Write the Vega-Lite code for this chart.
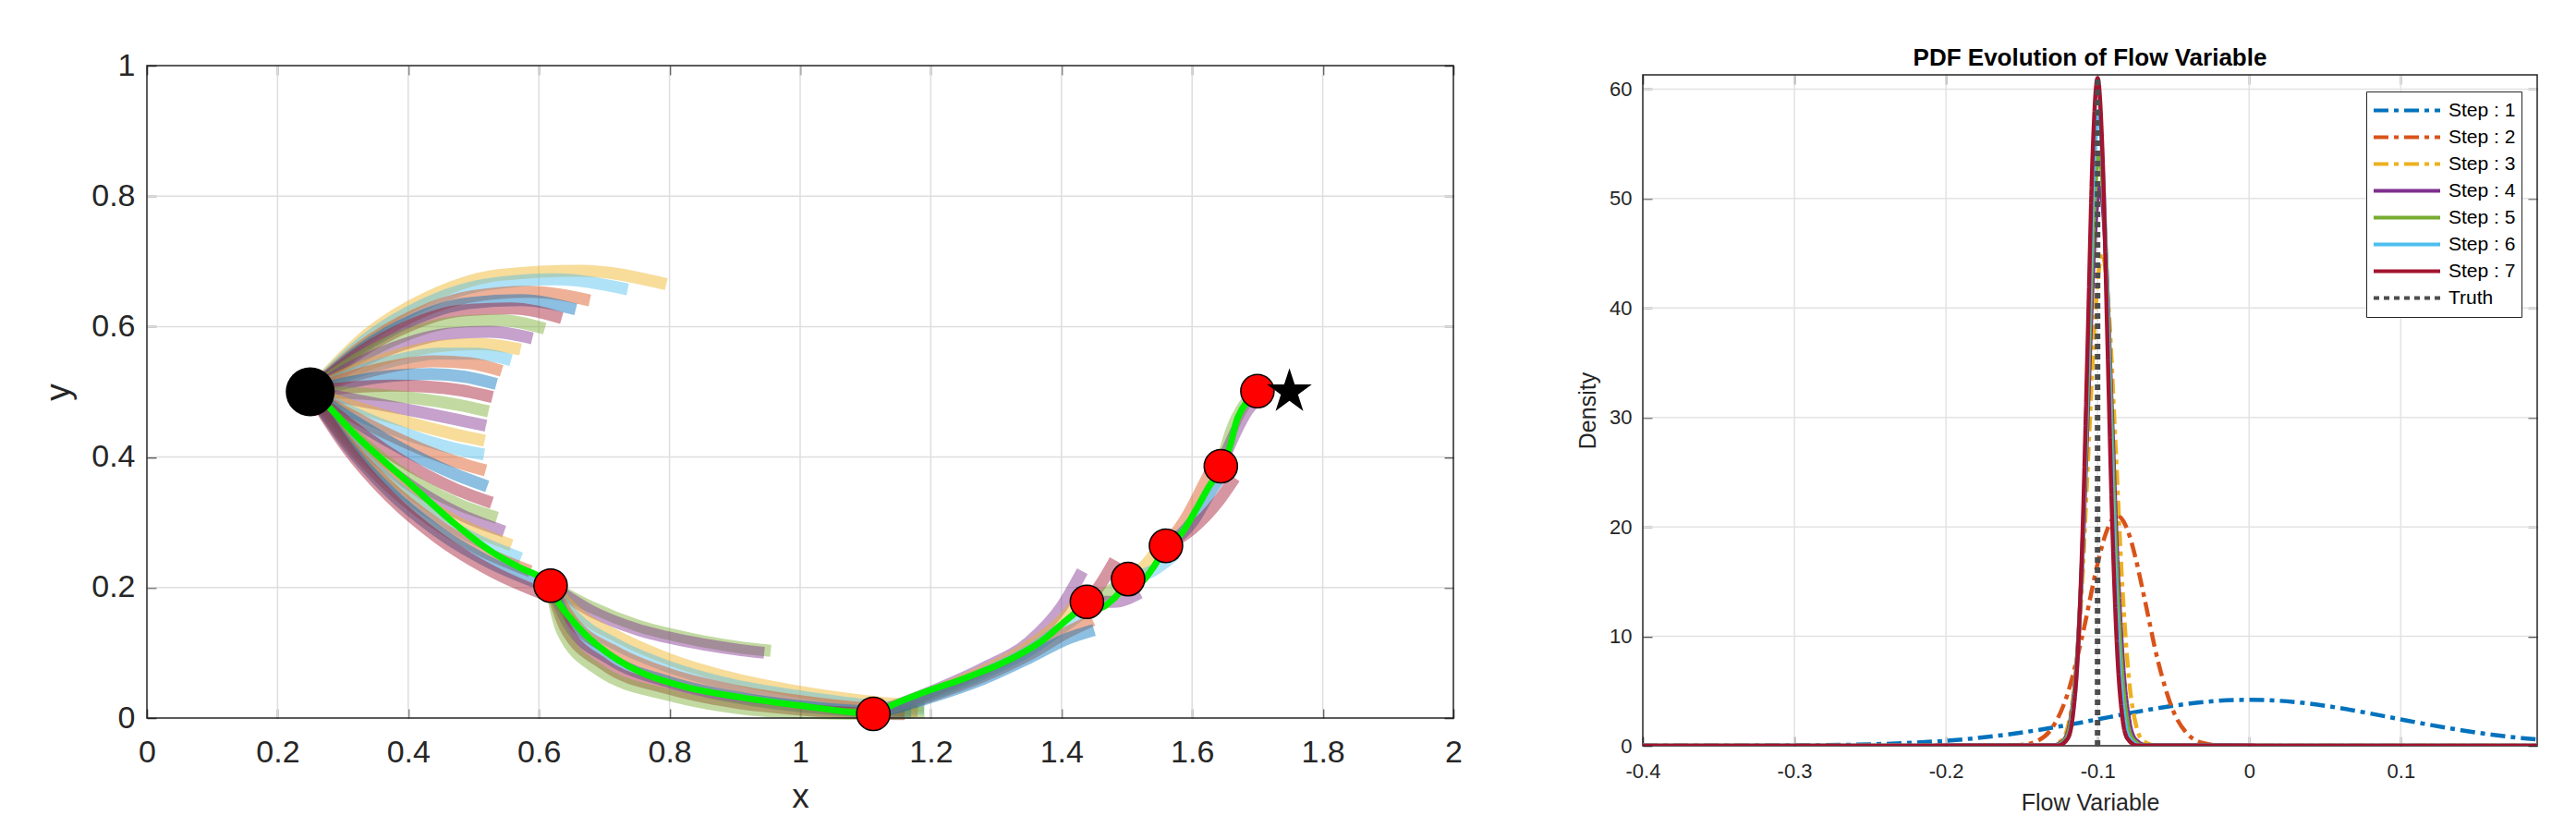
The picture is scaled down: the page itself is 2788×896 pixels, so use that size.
{
"$schema": "https://vega.github.io/schema/vega-lite/v6.json",
"background": "white",
"autosize": {"type": "none"},
"padding": {"left": 159, "top": 71, "right": 42, "bottom": 89},
"width": 2587,
"height": 736,
"datasets": {
"fan": [
{"g":"a01","x":0.25,"y":0.5},{"g":"a01","x":0.3358,"y":0.5866},{"g":"a01","x":0.4332,"y":0.6464},{"g":"a01","x":0.5422,"y":0.6794},{"g":"a01","x":0.6628,"y":0.6856},{"g":"a01","x":0.795,"y":0.665},
{"g":"a02","x":0.25,"y":0.5},{"g":"a02","x":0.3322,"y":0.5782},{"g":"a02","x":0.422,"y":0.633},{"g":"a02","x":0.5192,"y":0.6644},{"g":"a02","x":0.6238,"y":0.6724},{"g":"a02","x":0.736,"y":0.657},
{"g":"a03","x":0.25,"y":0.5},{"g":"a03","x":0.3287,"y":0.5694},{"g":"a03","x":0.4109,"y":0.6182},{"g":"a03","x":0.4965,"y":0.6462},{"g":"a03","x":0.5855,"y":0.6534},{"g":"a03","x":0.678,"y":0.64},
{"g":"a03b","x":0.25,"y":0.5},{"g":"a03b","x":0.32725,"y":0.5648},{"g":"a03b","x":0.4066,"y":0.60995},{"g":"a03b","x":0.4879,"y":0.63525},{"g":"a03b","x":0.57115,"y":0.6407},{"g":"a03b","x":0.6565,"y":0.6265},
{"g":"a04","x":0.25,"y":0.5},{"g":"a04","x":0.3258,"y":0.5602},{"g":"a04","x":0.4023,"y":0.6017},{"g":"a04","x":0.4793,"y":0.6243},{"g":"a04","x":0.5568,"y":0.628},{"g":"a04","x":0.635,"y":0.613},
{"g":"a05","x":0.25,"y":0.5},{"g":"a05","x":0.3237,"y":0.5516},{"g":"a05","x":0.3963,"y":0.587},{"g":"a05","x":0.4681,"y":0.6064},{"g":"a05","x":0.5391,"y":0.6098},{"g":"a05","x":0.609,"y":0.597},
{"g":"a06","x":0.25,"y":0.5},{"g":"a06","x":0.3217,"y":0.5429},{"g":"a06","x":0.3916,"y":0.5725},{"g":"a06","x":0.4596,"y":0.5889},{"g":"a06","x":0.5257,"y":0.5921},{"g":"a06","x":0.59,"y":0.582},
{"g":"a07","x":0.25,"y":0.5},{"g":"a07","x":0.3198,"y":0.5341},{"g":"a07","x":0.3869,"y":0.5576},{"g":"a07","x":0.4513,"y":0.5706},{"g":"a07","x":0.513,"y":0.5731},{"g":"a07","x":0.572,"y":0.565},
{"g":"a07b","x":0.25,"y":0.5},{"g":"a07b","x":0.3186,"y":0.5294},{"g":"a07b","x":0.3837,"y":0.5489},{"g":"a07b","x":0.4452,"y":0.5586},{"g":"a07b","x":0.5031,"y":0.5585},{"g":"a07b","x":0.5575,"y":0.5485},
{"g":"a08","x":0.25,"y":0.5},{"g":"a08","x":0.3174,"y":0.5247},{"g":"a08","x":0.3805,"y":0.5402},{"g":"a08","x":0.4391,"y":0.5466},{"g":"a08","x":0.4932,"y":0.5439},{"g":"a08","x":0.543,"y":0.532},
{"g":"a09","x":0.25,"y":0.5},{"g":"a09","x":0.316,"y":0.5158},{"g":"a09","x":0.3774,"y":0.5249},{"g":"a09","x":0.4344,"y":0.5273},{"g":"a09","x":0.487,"y":0.523},{"g":"a09","x":0.535,"y":0.512},
{"g":"a10","x":0.25,"y":0.5},{"g":"a10","x":0.3146,"y":0.5069},{"g":"a10","x":0.3747,"y":0.5095},{"g":"a10","x":0.4305,"y":0.5079},{"g":"a10","x":0.482,"y":0.5021},{"g":"a10","x":0.529,"y":0.492},
{"g":"a11","x":0.25,"y":0.5},{"g":"a11","x":0.3131,"y":0.498},{"g":"a11","x":0.372,"y":0.494},{"g":"a11","x":0.4266,"y":0.488},{"g":"a11","x":0.4769,"y":0.48},{"g":"a11","x":0.523,"y":0.47},
{"g":"a12","x":0.25,"y":0.5},{"g":"a12","x":0.3118,"y":0.489},{"g":"a12","x":0.3696,"y":0.4783},{"g":"a12","x":0.4234,"y":0.4679},{"g":"a12","x":0.4732,"y":0.4578},{"g":"a12","x":0.519,"y":0.448},
{"g":"a13","x":0.25,"y":0.5},{"g":"a13","x":0.3106,"y":0.48},{"g":"a13","x":0.3675,"y":0.4625},{"g":"a13","x":0.4209,"y":0.4475},{"g":"a13","x":0.4708,"y":0.435},{"g":"a13","x":0.517,"y":0.425},
{"g":"a14","x":0.25,"y":0.5},{"g":"a14","x":0.3093,"y":0.4711},{"g":"a14","x":0.3656,"y":0.447},{"g":"a14","x":0.4188,"y":0.4278},{"g":"a14","x":0.4689,"y":0.4135},{"g":"a14","x":0.516,"y":0.404},
{"g":"a14b","x":0.25,"y":0.5},{"g":"a14b","x":0.3088,"y":0.46605},{"g":"a14b","x":0.3651,"y":0.437},{"g":"a14b","x":0.4188,"y":0.4129},{"g":"a14b","x":0.4699,"y":0.39375},{"g":"a14b","x":0.5185,"y":0.3795},
{"g":"a15","x":0.25,"y":0.5},{"g":"a15","x":0.3083,"y":0.461},{"g":"a15","x":0.3646,"y":0.427},{"g":"a15","x":0.4188,"y":0.398},{"g":"a15","x":0.4709,"y":0.374},{"g":"a15","x":0.521,"y":0.355},
{"g":"a16","x":0.25,"y":0.5},{"g":"a16","x":0.3074,"y":0.452},{"g":"a16","x":0.364,"y":0.4109},{"g":"a16","x":0.4196,"y":0.3769},{"g":"a16","x":0.4742,"y":0.35},{"g":"a16","x":0.528,"y":0.33},
{"g":"a17","x":0.25,"y":0.5},{"g":"a17","x":0.3066,"y":0.443},{"g":"a17","x":0.3635,"y":0.3951},{"g":"a17","x":0.4207,"y":0.3565},{"g":"a17","x":0.4782,"y":0.3272},{"g":"a17","x":0.536,"y":0.307},
{"g":"a17b","x":0.25,"y":0.5},{"g":"a17b","x":0.30645,"y":0.4381},{"g":"a17b","x":0.3644,"y":0.38565},{"g":"a17b","x":0.4238,"y":0.34285},{"g":"a17b","x":0.48465,"y":0.3097},{"g":"a17b","x":0.547,"y":0.286},
{"g":"a18","x":0.25,"y":0.5},{"g":"a18","x":0.3063,"y":0.4332},{"g":"a18","x":0.3653,"y":0.3762},{"g":"a18","x":0.4269,"y":0.3292},{"g":"a18","x":0.4911,"y":0.2922},{"g":"a18","x":0.558,"y":0.265},
{"g":"a18b","x":0.25,"y":0.5},{"g":"a18b","x":0.3063,"y":0.42835},{"g":"a18b","x":0.3667,"y":0.36695},{"g":"a18b","x":0.4312,"y":0.31595},{"g":"a18b","x":0.4998,"y":0.27535},{"g":"a18b","x":0.5725,"y":0.245},
{"g":"a19","x":0.25,"y":0.5},{"g":"a19","x":0.3063,"y":0.4235},{"g":"a19","x":0.3681,"y":0.3577},{"g":"a19","x":0.4355,"y":0.3027},{"g":"a19","x":0.5085,"y":0.2585},{"g":"a19","x":0.587,"y":0.225},
{"g":"a19b","x":0.25,"y":0.5},{"g":"a19b","x":0.30635,"y":0.41865},{"g":"a19b","x":0.36985,"y":0.34845},{"g":"a19b","x":0.44055,"y":0.28945},{"g":"a19b","x":0.51845,"y":0.24165},{"g":"a19b","x":0.6035,"y":0.205},
{"g":"a20","x":0.25,"y":0.5},{"g":"a20","x":0.3064,"y":0.4138},{"g":"a20","x":0.3716,"y":0.3392},{"g":"a20","x":0.4456,"y":0.2762},{"g":"a20","x":0.5284,"y":0.2248},{"g":"a20","x":0.62,"y":0.185},
{"g":"b1","x":0.618,"y":0.203},{"g":"b1","x":0.68,"y":0.17},{"g":"b1","x":0.75,"y":0.142},{"g":"b1","x":0.83,"y":0.122},{"g":"b1","x":0.91,"y":0.108},{"g":"b1","x":0.955,"y":0.103},
{"g":"b2","x":0.618,"y":0.203},{"g":"b2","x":0.68,"y":0.164},{"g":"b2","x":0.75,"y":0.136},{"g":"b2","x":0.83,"y":0.117},{"g":"b2","x":0.91,"y":0.104},{"g":"b2","x":0.945,"y":0.1},
{"g":"b3","x":0.618,"y":0.203},{"g":"b3","x":0.66,"y":0.16},{"g":"b3","x":0.72,"y":0.125},{"g":"b3","x":0.8,"y":0.09},{"g":"b3","x":0.9,"y":0.06},{"g":"b3","x":1.0,"y":0.04},{"g":"b3","x":1.1,"y":0.026},{"g":"b3","x":1.19,"y":0.018},
{"g":"b4","x":0.618,"y":0.203},{"g":"b4","x":0.655,"y":0.155},{"g":"b4","x":0.72,"y":0.112},{"g":"b4","x":0.8,"y":0.078},{"g":"b4","x":0.9,"y":0.05},{"g":"b4","x":1.0,"y":0.033},{"g":"b4","x":1.1,"y":0.02},{"g":"b4","x":1.19,"y":0.014},
{"g":"b5","x":0.618,"y":0.203},{"g":"b5","x":0.65,"y":0.15},{"g":"b5","x":0.72,"y":0.1},{"g":"b5","x":0.8,"y":0.067},{"g":"b5","x":0.9,"y":0.042},{"g":"b5","x":1.0,"y":0.026},{"g":"b5","x":1.1,"y":0.015},{"g":"b5","x":1.18,"y":0.011},
{"g":"b6","x":0.618,"y":0.203},{"g":"b6","x":0.645,"y":0.145},{"g":"b6","x":0.71,"y":0.09},{"g":"b6","x":0.8,"y":0.055},{"g":"b6","x":0.9,"y":0.032},{"g":"b6","x":1.0,"y":0.018},{"g":"b6","x":1.1,"y":0.01},{"g":"b6","x":1.17,"y":0.008},
{"g":"b7","x":0.618,"y":0.203},{"g":"b7","x":0.64,"y":0.14},{"g":"b7","x":0.7,"y":0.082},{"g":"b7","x":0.8,"y":0.045},{"g":"b7","x":0.9,"y":0.024},{"g":"b7","x":1.0,"y":0.013},{"g":"b7","x":1.1,"y":0.007},{"g":"b7","x":1.16,"y":0.006},
{"g":"b8","x":0.618,"y":0.203},{"g":"b8","x":0.635,"y":0.135},{"g":"b8","x":0.69,"y":0.075},{"g":"b8","x":0.8,"y":0.035},{"g":"b8","x":0.9,"y":0.016},{"g":"b8","x":1.0,"y":0.008},{"g":"b8","x":1.1,"y":0.006},{"g":"b8","x":1.19,"y":0.009},
{"g":"c1","x":1.112,"y":0.0065},{"g":"c1","x":1.2,"y":0.04},{"g":"c1","x":1.28,"y":0.076},{"g":"c1","x":1.35,"y":0.116},{"g":"c1","x":1.4,"y":0.17},{"g":"c1","x":1.432,"y":0.225},
{"g":"c2","x":1.112,"y":0.0065},{"g":"c2","x":1.2,"y":0.038},{"g":"c2","x":1.28,"y":0.072},{"g":"c2","x":1.35,"y":0.11},{"g":"c2","x":1.41,"y":0.16},{"g":"c2","x":1.44,"y":0.2},
{"g":"c3","x":1.112,"y":0.0065},{"g":"c3","x":1.2,"y":0.036},{"g":"c3","x":1.28,"y":0.068},{"g":"c3","x":1.35,"y":0.103},{"g":"c3","x":1.41,"y":0.145},{"g":"c3","x":1.445,"y":0.17},
{"g":"c4","x":1.112,"y":0.0065},{"g":"c4","x":1.2,"y":0.034},{"g":"c4","x":1.28,"y":0.064},{"g":"c4","x":1.35,"y":0.097},{"g":"c4","x":1.41,"y":0.132},{"g":"c4","x":1.448,"y":0.15},
{"g":"c5","x":1.112,"y":0.0065},{"g":"c5","x":1.2,"y":0.032},{"g":"c5","x":1.28,"y":0.06},{"g":"c5","x":1.35,"y":0.092},{"g":"c5","x":1.41,"y":0.122},{"g":"c5","x":1.45,"y":0.135},
{"g":"d1","x":1.439,"y":0.178},{"g":"d1","x":1.46,"y":0.205},{"g":"d1","x":1.482,"y":0.242},
{"g":"d2","x":1.439,"y":0.178},{"g":"d2","x":1.47,"y":0.192},{"g":"d2","x":1.5,"y":0.215},
{"g":"d3","x":1.439,"y":0.178},{"g":"d3","x":1.48,"y":0.178},{"g":"d3","x":1.52,"y":0.192},
{"g":"e1","x":1.502,"y":0.213},{"g":"e1","x":1.53,"y":0.236},{"g":"e1","x":1.556,"y":0.272},
{"g":"e2","x":1.502,"y":0.213},{"g":"e2","x":1.54,"y":0.226},{"g":"e2","x":1.575,"y":0.252},
{"g":"f1","x":1.56,"y":0.264},{"g":"f1","x":1.59,"y":0.305},{"g":"f1","x":1.62,"y":0.362},{"g":"f1","x":1.638,"y":0.398},
{"g":"f2","x":1.56,"y":0.264},{"g":"f2","x":1.6,"y":0.3},{"g":"f2","x":1.63,"y":0.35},{"g":"f2","x":1.655,"y":0.385},
{"g":"f3","x":1.56,"y":0.264},{"g":"f3","x":1.6,"y":0.29},{"g":"f3","x":1.64,"y":0.332},{"g":"f3","x":1.665,"y":0.368},
{"g":"g1","x":1.644,"y":0.386},{"g":"g1","x":1.66,"y":0.44},{"g":"g1","x":1.68,"y":0.48},{"g":"g1","x":1.7,"y":0.5},
{"g":"g2","x":1.644,"y":0.386},{"g":"g2","x":1.665,"y":0.435},{"g":"g2","x":1.685,"y":0.472},{"g":"g2","x":1.705,"y":0.492}
],
"route": [
{"i":1,"x":0.25,"y":0.5},{"i":2,"x":0.274,"y":0.481},{"i":3,"x":0.325,"y":0.428},{"i":4,"x":0.398,"y":0.363},{"i":5,"x":0.471,"y":0.298},{"i":6,"x":0.529,"y":0.254},{"i":7,"x":0.572,"y":0.23},{"i":8,"x":0.601,"y":0.217},{"i":9,"x":0.618,"y":0.203},{"i":10,"x":0.623,"y":0.189},{"i":11,"x":0.645,"y":0.157},{"i":12,"x":0.689,"y":0.112},{"i":13,"x":0.754,"y":0.071},{"i":14,"x":0.827,"y":0.047},{"i":15,"x":0.913,"y":0.031},{"i":16,"x":1.0,"y":0.019},{"i":17,"x":1.086,"y":0.008},{"i":18,"x":1.112,"y":0.0065},{"i":19,"x":1.143,"y":0.021},{"i":20,"x":1.194,"y":0.041},{"i":21,"x":1.252,"y":0.061},{"i":22,"x":1.309,"y":0.084},{"i":23,"x":1.367,"y":0.116},{"i":24,"x":1.41,"y":0.152},{"i":25,"x":1.439,"y":0.173},{"i":26,"x":1.461,"y":0.169},{"i":27,"x":1.482,"y":0.185},{"i":28,"x":1.504,"y":0.209},{"i":29,"x":1.518,"y":0.205},{"i":30,"x":1.54,"y":0.23},{"i":31,"x":1.56,"y":0.262},{"i":32,"x":1.583,"y":0.282},{"i":33,"x":1.608,"y":0.323},{"i":34,"x":1.626,"y":0.355},{"i":35,"x":1.648,"y":0.388},{"i":36,"x":1.659,"y":0.42},{"i":37,"x":1.67,"y":0.461},{"i":38,"x":1.684,"y":0.485},{"i":39,"x":1.7,"y":0.501}
],
"startpt": [{"x":0.25,"y":0.5}],
"waypts": [{"x":0.618,"y":0.203},{"x":1.112,"y":0.0065},{"x":1.439,"y":0.178},{"x":1.502,"y":0.213},{"x":1.56,"y":0.264},{"x":1.644,"y":0.386},{"x":1.7,"y":0.501}],
"goalpt": [{"x":1.749,"y":0.5}],
"lgx": [{"v":0.2},{"v":0.4},{"v":0.6},{"v":0.8},{"v":1},{"v":1.2},{"v":1.4},{"v":1.6},{"v":1.8}],
"lgy": [{"v":0.2},{"v":0.4},{"v":0.6},{"v":0.8}],
"rgx": [{"v":-0.3},{"v":-0.2},{"v":-0.1},{"v":0},{"v":0.1}],
"rgy": [{"v":10},{"v":20},{"v":30},{"v":40},{"v":50},{"v":60}],
"pdf": [
{"s":"Step : 1","x":-0.4,"y":0.0006},{"s":"Step : 1","x":-0.36,"y":0.0032},{"s":"Step : 1","x":-0.32,"y":0.0144},{"s":"Step : 1","x":-0.28,"y":0.0546},{"s":"Step : 1","x":-0.26,"y":0.0993},{"s":"Step : 1","x":-0.24,"y":0.173},{"s":"Step : 1","x":-0.22,"y":0.287},{"s":"Step : 1","x":-0.2,"y":0.458},{"s":"Step : 1","x":-0.18,"y":0.698},{"s":"Step : 1","x":-0.16,"y":1.017},{"s":"Step : 1","x":-0.14,"y":1.418},{"s":"Step : 1","x":-0.12,"y":1.891},{"s":"Step : 1","x":-0.1,"y":2.413},{"s":"Step : 1","x":-0.08,"y":2.946},{"s":"Step : 1","x":-0.06,"y":3.44},{"s":"Step : 1","x":-0.04,"y":3.843},{"s":"Step : 1","x":-0.02,"y":4.108},{"s":"Step : 1","x":0,"y":4.2},{"s":"Step : 1","x":0.02,"y":4.108},{"s":"Step : 1","x":0.04,"y":3.843},{"s":"Step : 1","x":0.06,"y":3.44},{"s":"Step : 1","x":0.08,"y":2.946},{"s":"Step : 1","x":0.1,"y":2.413},{"s":"Step : 1","x":0.12,"y":1.891},{"s":"Step : 1","x":0.14,"y":1.418},{"s":"Step : 1","x":0.16,"y":1.017},{"s":"Step : 1","x":0.18,"y":0.698},{"s":"Step : 1","x":0.19,"y":0.568},
{"s":"Step : 2","x":-0.4,"y":0},{"s":"Step : 2","x":-0.17,"y":0.0015},{"s":"Step : 2","x":-0.16,"y":0.013},{"s":"Step : 2","x":-0.15,"y":0.086},{"s":"Step : 2","x":-0.14,"y":0.429},{"s":"Step : 2","x":-0.13,"y":1.62},{"s":"Step : 2","x":-0.12,"y":4.65},{"s":"Step : 2","x":-0.11,"y":10.09},{"s":"Step : 2","x":-0.1,"y":16.62},{"s":"Step : 2","x":-0.095,"y":19.22},{"s":"Step : 2","x":-0.09,"y":20.74},{"s":"Step : 2","x":-0.087,"y":21},{"s":"Step : 2","x":-0.085,"y":20.88},{"s":"Step : 2","x":-0.08,"y":19.62},{"s":"Step : 2","x":-0.075,"y":17.2},{"s":"Step : 2","x":-0.07,"y":14.08},{"s":"Step : 2","x":-0.06,"y":7.65},{"s":"Step : 2","x":-0.05,"y":3.15},{"s":"Step : 2","x":-0.04,"y":0.984},{"s":"Step : 2","x":-0.03,"y":0.233},{"s":"Step : 2","x":-0.02,"y":0.042},{"s":"Step : 2","x":-0.01,"y":0.006},{"s":"Step : 2","x":0.19,"y":0},
{"s":"Step : 3","x":-0.4,"y":0},{"s":"Step : 3","x":-0.1325,"y":0.015},{"s":"Step : 3","x":-0.1236,"y":0.5},{"s":"Step : 3","x":-0.1192,"y":1.98},{"s":"Step : 3","x":-0.1147,"y":6.09},{"s":"Step : 3","x":-0.1103,"y":14.61},{"s":"Step : 3","x":-0.1059,"y":27.29},{"s":"Step : 3","x":-0.1014,"y":39.71},{"s":"Step : 3","x":-0.097,"y":45},{"s":"Step : 3","x":-0.0926,"y":39.71},{"s":"Step : 3","x":-0.0881,"y":27.29},{"s":"Step : 3","x":-0.0837,"y":14.61},{"s":"Step : 3","x":-0.0793,"y":6.09},{"s":"Step : 3","x":-0.0748,"y":1.98},{"s":"Step : 3","x":-0.0704,"y":0.5},{"s":"Step : 3","x":-0.0615,"y":0.015},{"s":"Step : 3","x":0.19,"y":0},
{"s":"Step : 4","x":-0.4,"y":0},{"s":"Step : 4","x":-0.1298,"y":0.017},{"s":"Step : 4","x":-0.122,"y":0.57},{"s":"Step : 4","x":-0.1181,"y":2.24},{"s":"Step : 4","x":-0.1141,"y":6.9},{"s":"Step : 4","x":-0.1102,"y":16.56},{"s":"Step : 4","x":-0.1063,"y":30.93},{"s":"Step : 4","x":-0.1024,"y":45.01},{"s":"Step : 4","x":-0.0985,"y":51},{"s":"Step : 4","x":-0.0946,"y":45.01},{"s":"Step : 4","x":-0.0907,"y":30.93},{"s":"Step : 4","x":-0.0868,"y":16.56},{"s":"Step : 4","x":-0.0829,"y":6.9},{"s":"Step : 4","x":-0.079,"y":2.24},{"s":"Step : 4","x":-0.075,"y":0.57},{"s":"Step : 4","x":-0.0672,"y":0.017},{"s":"Step : 4","x":0.19,"y":0},
{"s":"Step : 5","x":-0.4,"y":0},{"s":"Step : 5","x":-0.1286,"y":0.018},{"s":"Step : 5","x":-0.1212,"y":0.6},{"s":"Step : 5","x":-0.1175,"y":2.37},{"s":"Step : 5","x":-0.1138,"y":7.31},{"s":"Step : 5","x":-0.1101,"y":17.53},{"s":"Step : 5","x":-0.1064,"y":32.75},{"s":"Step : 5","x":-0.1027,"y":47.66},{"s":"Step : 5","x":-0.099,"y":54},{"s":"Step : 5","x":-0.0953,"y":47.66},{"s":"Step : 5","x":-0.0916,"y":32.75},{"s":"Step : 5","x":-0.0879,"y":17.53},{"s":"Step : 5","x":-0.0842,"y":7.31},{"s":"Step : 5","x":-0.0805,"y":2.37},{"s":"Step : 5","x":-0.0768,"y":0.6},{"s":"Step : 5","x":-0.0694,"y":0.018},{"s":"Step : 5","x":0.19,"y":0},
{"s":"Step : 6","x":-0.4,"y":0},{"s":"Step : 6","x":-0.127,"y":0.019},{"s":"Step : 6","x":-0.1201,"y":0.64},{"s":"Step : 6","x":-0.1167,"y":2.55},{"s":"Step : 6","x":-0.1133,"y":7.85},{"s":"Step : 6","x":-0.1098,"y":18.83},{"s":"Step : 6","x":-0.1064,"y":35.18},{"s":"Step : 6","x":-0.1029,"y":51.19},{"s":"Step : 6","x":-0.0995,"y":58},{"s":"Step : 6","x":-0.0961,"y":51.19},{"s":"Step : 6","x":-0.0926,"y":35.18},{"s":"Step : 6","x":-0.0892,"y":18.83},{"s":"Step : 6","x":-0.0857,"y":7.85},{"s":"Step : 6","x":-0.0823,"y":2.55},{"s":"Step : 6","x":-0.0789,"y":0.64},{"s":"Step : 6","x":-0.072,"y":0.019},{"s":"Step : 6","x":0.19,"y":0},
{"s":"Step : 7","x":-0.4,"y":0},{"s":"Step : 7","x":-0.1262,"y":0.02},{"s":"Step : 7","x":-0.1196,"y":0.68},{"s":"Step : 7","x":-0.1164,"y":2.68},{"s":"Step : 7","x":-0.1131,"y":8.25},{"s":"Step : 7","x":-0.1098,"y":19.81},{"s":"Step : 7","x":-0.1065,"y":37},{"s":"Step : 7","x":-0.1033,"y":53.83},{"s":"Step : 7","x":-0.1,"y":61},{"s":"Step : 7","x":-0.0967,"y":53.83},{"s":"Step : 7","x":-0.0935,"y":37},{"s":"Step : 7","x":-0.0902,"y":19.81},{"s":"Step : 7","x":-0.0869,"y":8.25},{"s":"Step : 7","x":-0.0837,"y":2.68},{"s":"Step : 7","x":-0.0804,"y":0.68},{"s":"Step : 7","x":-0.0738,"y":0.02},{"s":"Step : 7","x":0.19,"y":0}
],
"truth": [{"s":"Truth","x":-0.1,"y":0},{"s":"Truth","x":-0.1,"y":61}]
},
"resolve": {
"scale": {"x": "independent", "y": "independent", "color": "independent", "strokeDash": "independent"},
"axis": {"x": "independent", "y": "independent"},
"legend": {"color": "independent", "strokeDash": "independent"}
},
"layer": [
{
"resolve": {"axis": {"x": "independent", "y": "independent"}},
"layer": [
{
"data": {"name": "lgx"},
"mark": {"type": "rule", "color": "#dedede", "strokeWidth": 1.5},
"encoding": {"x": {"field": "v", "type": "quantitative", "axis": null}, "y": {"datum": 0, "axis": null}, "y2": {"datum": 1}}
},
{
"data": {"name": "lgy"},
"mark": {"type": "rule", "color": "#dedede", "strokeWidth": 1.5},
"encoding": {"y": {"field": "v", "type": "quantitative", "axis": null}, "x": {"datum": 0, "axis": null}, "x2": {"datum": 2}}
},
{
"data": {"name": "fan"},
"mark": {"type": "line", "interpolate": "monotone", "strokeWidth": 13, "opacity": 0.45, "clip": true},
"encoding": {
"x": {"field": "x", "type": "quantitative", "scale": {"domain": [0, 2], "range": [0, 1414], "nice": false, "zero": false},
"axis": {"orient": "bottom", "offset": -30, "values": [0,0.2,0.4,0.6,0.8,1,1.2,1.4,1.6,1.8,2], "format": "~g", "labelFontSize": 34, "labelPadding": 30, "labelFlush": false, "title": "x", "titleFontSize": 37, "titlePadding": 13}},
"y": {"field": "y", "type": "quantitative", "scale": {"domain": [0, 1], "range": [706, 0], "nice": false, "zero": false},
"axis": {"orient": "left", "values": [0,0.2,0.4,0.6,0.8,1], "format": "~g", "labelFontSize": 34, "labelPadding": 23, "labelFlush": false, "title": "y", "titleFontSize": 37, "titlePadding": 16}},
"color": {"field": "g", "type": "nominal", "legend": null, "scale": {"range": ["#EDB120","#4DBEEE","#D95319","#0072BD","#A2142F","#77AC30","#7E2F8E"]}}
}
},
{
"data": {"values": [{}]},
"mark": {"type": "rect", "filled": false, "color": "#262626", "stroke": "#262626", "strokeWidth": 1.5},
"encoding": {"x": {"datum": 0, "axis": null}, "x2": {"datum": 2}, "y": {"datum": 0, "axis": null}, "y2": {"datum": 1}}
},
{
"data": {"name": "route"},
"mark": {"type": "line", "interpolate": "catmull-rom", "color": "#00f000", "strokeWidth": 7},
"encoding": {
"x": {"field": "x", "type": "quantitative", "axis": {"orient": "top", "values": [0,0.2,0.4,0.6,0.8,1,1.2,1.4,1.6,1.8,2], "labels": false, "title": null}},
"y": {"field": "y", "type": "quantitative", "axis": {"orient": "right", "offset": -1173, "values": [0,0.2,0.4,0.6,0.8,1], "labels": false, "title": null}},
"order": {"field": "i"}
}
},
{
"data": {"name": "startpt"},
"mark": {"type": "point", "shape": "circle", "filled": true, "color": "#000000", "size": 2809, "opacity": 1},
"encoding": {"x": {"field": "x", "type": "quantitative", "axis": null}, "y": {"field": "y", "type": "quantitative", "axis": null}}
},
{
"data": {"name": "waypts"},
"mark": {"type": "point", "shape": "circle", "filled": true, "fill": "#ff0000", "stroke": "#000000", "strokeWidth": 1.5, "size": 1300, "opacity": 1},
"encoding": {"x": {"field": "x", "type": "quantitative", "axis": null}, "y": {"field": "y", "type": "quantitative", "axis": null}}
},
{
"data": {"name": "goalpt"},
"mark": {"type": "point", "shape": "M0,-1L0.2245,-0.309L0.951,-0.309L0.3633,0.118L0.588,0.809L0,0.382L-0.588,0.809L-0.3633,0.118L-0.951,-0.309L-0.2245,-0.309Z", "filled": true, "color": "#000000", "size": 2600, "opacity": 1},
"encoding": {"x": {"field": "x", "type": "quantitative", "axis": null}, "y": {"field": "y", "type": "quantitative", "axis": null}}
}
]
},
{
"resolve": {"axis": {"x": "independent", "y": "independent"}},
"layer": [
{
"data": {"name": "rgx"},
"mark": {"type": "rule", "color": "#e3e3e3", "strokeWidth": 1.5},
"encoding": {"x": {"field": "v", "type": "quantitative", "axis": null}, "y": {"datum": 0, "axis": null}, "y2": {"datum": 61.3}}
},
{
"data": {"name": "rgy"},
"mark": {"type": "rule", "color": "#e3e3e3", "strokeWidth": 1.5},
"encoding": {"y": {"field": "v", "type": "quantitative", "axis": null}, "x": {"datum": -0.4, "axis": null}, "x2": {"datum": 0.19}}
},
{
"data": {"values": [{}]},
"mark": {"type": "rect", "filled": false, "color": "#262626", "stroke": "#262626", "strokeWidth": 1.5},
"encoding": {"x": {"datum": -0.4, "axis": null}, "x2": {"datum": 0.19}, "y": {"datum": 0, "axis": null}, "y2": {"datum": 61.3}}
},
{
"data": {"name": "pdf"},
"mark": {"type": "line", "interpolate": "monotone", "clip": true, "strokeWidth": 4.5},
"encoding": {
"x": {"field": "x", "type": "quantitative", "scale": {"domain": [-0.4, 0.19], "range": [1619, 2587], "nice": false, "zero": false},
"axis": {"orient": "bottom", "values": [-0.4,-0.3,-0.2,-0.1,0,0.1], "labelExpr": "replace(format(datum.value, '~g'), '\u2212', '-')", "labelFontSize": 22, "labelPadding": 27, "labelFlush": false, "title": "Flow Variable", "titleFontSize": 25, "titlePadding": 11}},
"y": {"field": "y", "type": "quantitative", "scale": {"domain": [0, 61.3], "range": [736, 10], "nice": false, "zero": false},
"axis": {"orient": "left", "offset": -1619, "values": [0,10,20,30,40,50,60], "labelFontSize": 22, "labelPadding": 22, "labelFlush": false, "title": "Density", "titleFontSize": 25, "titlePadding": 10}},
"color": {"field": "s", "type": "nominal",
"scale": {"domain": ["Step : 1","Step : 2","Step : 3","Step : 4","Step : 5","Step : 6","Step : 7","Truth"], "range": ["#0072BD","#D95319","#EDB120","#7E2F8E","#77AC30","#4DBEEE","#A2142F","#4D4D4D"]},
"legend": {"orient": "none", "legendX": 2402, "legendY": 28, "title": null, "symbolType": "stroke", "symbolSize": 5184, "symbolStrokeWidth": 4, "clipHeight": 29, "labelFontSize": 21, "labelColor": "#000000", "labelOffset": 7, "padding": 6, "rowPadding": 0, "strokeColor": "#262626", "fillColor": "#ffffff"}},
"strokeDash": {"field": "s", "type": "nominal",
"scale": {"domain": ["Step : 1","Step : 2","Step : 3","Step : 4","Step : 5","Step : 6","Step : 7","Truth"], "range": [[16,6,5,6],[16,6,5,6],[16,6,5,6],[1,0],[1,0],[1,0],[1,0],[6,5]]},
"legend": {"orient": "none", "legendX": 2402, "legendY": 28, "title": null, "symbolType": "stroke", "symbolSize": 5184, "symbolStrokeWidth": 4, "clipHeight": 29, "labelFontSize": 21, "labelColor": "#000000", "labelOffset": 7, "padding": 6, "rowPadding": 0, "strokeColor": "#262626", "fillColor": "#ffffff"}}
}
},
{
"data": {"name": "truth"},
"mark": {"type": "line", "interpolate": "linear", "strokeWidth": 6},
"encoding": {
"x": {"field": "x", "type": "quantitative", "axis": {"orient": "top", "offset": -10, "values": [-0.4,-0.3,-0.2,-0.1,0,0.1], "labels": false, "title": null}},
"y": {"field": "y", "type": "quantitative", "axis": {"orient": "right", "values": [0,10,20,30,40,50,60], "labels": false, "title": null}},
"color": {"field": "s", "type": "nominal"},
"strokeDash": {"field": "s", "type": "nominal"},
"order": {"field": "y"}
}
},
{
"data": {"values": [{"t": "PDF Evolution of Flow Variable"}]},
"mark": {"type": "text", "align": "center", "baseline": "alphabetic", "dy": -10, "fontSize": 26, "fontWeight": "bold", "font": "Liberation Sans", "color": "#000000"},
"encoding": {"text": {"field": "t"}, "x": {"datum": -0.105, "axis": null}, "y": {"datum": 61.3, "axis": null}}
}
]
}
],
"config": {
"font": "Liberation Sans",
"view": {"stroke": null},
"axis": {"domain": false, "ticks": true, "tickSize": -10, "tickColor": "#262626", "tickWidth": 1.5, "grid": false, "labelColor": "#262626", "titleColor": "#262626", "titleFontWeight": "normal", "labelFont": "Liberation Sans", "titleFont": "Liberation Sans"},
"line": {"strokeCap": "butt"}
}
}
